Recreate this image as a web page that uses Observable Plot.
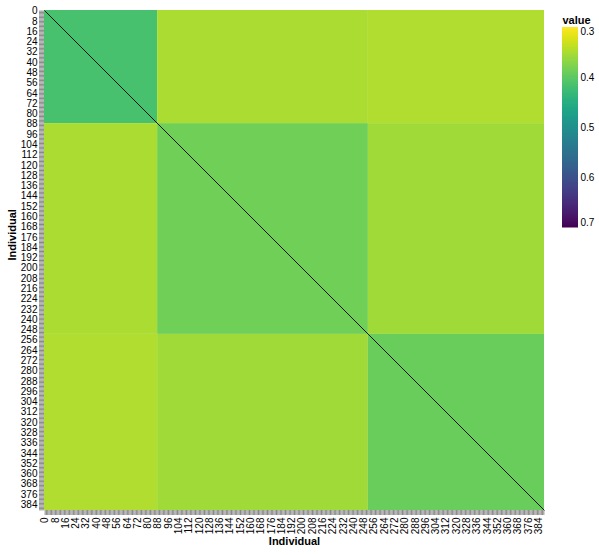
<!DOCTYPE html>
<html>
<head>
<meta charset="utf-8">
<script src="https://cdn.jsdelivr.net/npm/d3@7"></script>
<script src="https://cdn.jsdelivr.net/npm/@observablehq/plot@0.6"></script>
<style>
  body { margin: 0; background: #fff; }
  #wrap { position: relative; width: 599px; height: 555px; font-family: "Liberation Sans", Arial, sans-serif; }
  #legend { position: absolute; left: 556px; top: 0px; }
</style>
</head>
<body>
<div id="wrap"><div id="chart"></div><div id="legend"></div></div>
<script>
// ---- data ----
const groups = ["A", "B", "C"];
const groupSizes = [88, 164, 137];           // individuals per group
// mean pairwise value between groups (row group x column group)
const blockValues = [
  [0.416, 0.351, 0.347],
  [0.351, 0.387, 0.357],
  [0.347, 0.357, 0.392]
];
const legendTicks = [0.3, 0.4, 0.5, 0.6, 0.7];
const colorDomain = [0.3, 0.7];

// ---- derived tables ----
const N = d3.sum(groupSizes);
const starts = groupSizes.map((s, i) => d3.sum(groupSizes.slice(0, i)));
const blocks = [];
groups.forEach((g, i) => groups.forEach((h, j) => {
  blocks.push({x1: starts[j], x2: starts[j] + groupSizes[j], y1: starts[i], y2: starts[i] + groupSizes[i], value: blockValues[i][j]});
}));
const individuals = d3.range(N);
const tickPos = individuals.map(i => i + 0.5);
const fmt = d => { const i = Math.round(d - 0.5); return i % 8 === 0 ? String(i) : ""; };
const diagonal = [{a: 0, b: N}];

const font = "Liberation Sans, Arial, sans-serif";

const chart = Plot.plot({
  width: 599,
  height: 555,
  marginLeft: 44,
  marginRight: 55,
  marginTop: 10,
  marginBottom: 45,
  style: {fontFamily: font, fontSize: "10px", background: "white", color: "black"},
  x: {domain: [0, N], axis: null},
  y: {domain: [0, N], reverse: true, axis: null},
  color: {type: "linear", scheme: "viridis", reverse: true, domain: colorDomain},
  marks: [
    Plot.rect(blocks, {x1: "x1", x2: "x2", y1: "y1", y2: "y2", fill: "value"}),
    Plot.link(diagonal, {x1: "a", y1: "a", x2: "b", y2: "b", stroke: "black", strokeWidth: 0.9}),
    Plot.axisX({anchor: "bottom", ticks: tickPos, tickFormat: fmt, tickSize: 5, tickPadding: 2, tickRotate: -90, stroke: "#888", fill: "black", label: null}),
    Plot.axisY({anchor: "left", ticks: tickPos, tickFormat: fmt, tickSize: 5, tickPadding: 2, stroke: "#888", fill: "black", label: null}),
    Plot.text(["Individual"], {frameAnchor: "bottom", dy: 34, text: d => d, fontWeight: "bold", fontSize: 11}),
    Plot.text(["Individual"], {frameAnchor: "left", dx: -32, rotate: -90, text: d => d, fontWeight: "bold", fontSize: 11})
  ]
});
document.getElementById("chart").append(chart);

// ---- legend (vertical gradient) ----
const steps = d3.range(0, 200).map(k => colorDomain[0] + (colorDomain[1] - colorDomain[0]) * k / 200);
const dv = (colorDomain[1] - colorDomain[0]) / 200;
const lastTick = legendTicks.length - 1;
const legend = Plot.plot({
  width: 43,
  height: 240,
  marginLeft: 6,
  marginRight: 21,
  marginTop: 27,
  marginBottom: 13,
  style: {fontFamily: font, fontSize: "10px", background: "transparent", color: "black", overflow: "visible"},
  x: {domain: [0, 1], axis: null},
  y: {domain: colorDomain, reverse: true, axis: null},
  color: {type: "linear", scheme: "viridis", reverse: true, domain: colorDomain},
  marks: [
    Plot.rect(steps, {x1: 0, x2: 1, y1: d => d, y2: d => d + dv * 1.5, fill: d => d + dv / 2}),
    Plot.text(legendTicks.slice(0, 1), {x: 1, y: d => d, text: d => d.toFixed(1), textAnchor: "start", dx: 2, dy: 4}),
    Plot.text(legendTicks.slice(1, lastTick), {x: 1, y: d => d, text: d => d.toFixed(1), textAnchor: "start", dx: 2}),
    Plot.text(legendTicks.slice(lastTick), {x: 1, y: d => d, text: d => d.toFixed(1), textAnchor: "start", dx: 2, dy: -5}),
    Plot.text(["value"], {frameAnchor: "top-left", dy: -11, text: d => d, fontWeight: "bold", fontSize: 11, textAnchor: "start"})
  ]
});
document.getElementById("legend").append(legend);
</script>
</body>
</html>
